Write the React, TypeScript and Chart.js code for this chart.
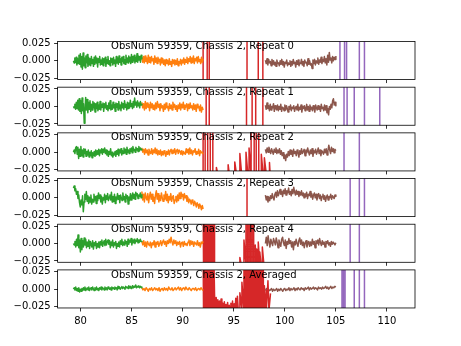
import React, { useEffect, useRef } from "react";
import { Chart, registerables } from "chart.js";

Chart.register(...registerables);

// ---------- data (values in units of 0.001) ----------
const UNIT = 0.001;
const X_TICKS = [80, 85, 90, 95, 100, 105, 110];
const Y_TICKS = [-0.025, 0, 0.025];
const TITLES = [
  "ObsNum 59359, Chassis 2, Repeat 0",
  "ObsNum 59359, Chassis 2, Repeat 1",
  "ObsNum 59359, Chassis 2, Repeat 2",
  "ObsNum 59359, Chassis 2, Repeat 3",
  "ObsNum 59359, Chassis 2, Repeat 4",
  "ObsNum 59359, Chassis 2, Averaged",
];

// frequency ranges of the evenly sampled segments
const GREEN_RANGE = [79.3, 86.0];
const ORANGE_RANGE = [86.0, 92.0];
const BROWN_RANGE = [98.1, 105.0];

const GREEN_0 = [0,-3,4,-2,5,-6,3,-4,8,-5,10,-9,6,-12,11,-7,4,-10,7,-3,9,-8,5,-6,3,-7,6,-4,2,-8,5,-5,7,-3,4,-9,3,-2,6,-6,1,-5,4,-7,3,-3,5,-8,2,-4,6,-5,0,-7,4,-2,3,-6,5,-4,1,-8,6,-3,4,-5,7,-2,3,-6,5,-1,6,-4,2,-5,8,-2,4,-3,7,-1,5,-4,9,-2,6,0,8,-3,5,-1,10,-2,7,1,6,-2,8,3];
const GREEN_1 = [0,-2,3,-4,6,-3,9,-5,11,-7,8,-10,12,-6,4,-24,-8,13,-5,10,-9,6,-4,8,-7,3,-5,7,-2,5,-8,4,-3,6,-6,2,-4,7,-5,3,-1,5,-7,4,-2,6,-4,1,-6,5,-3,8,-5,2,-4,6,-2,3,-7,5,-1,4,-5,7,-3,2,-6,6,-2,4,-4,8,-1,3,-5,6,-3,5,-2,9,0,4,-3,7,-1,12,2,6,-1,8,1,5,-2,7,2,4];
const GREEN_2 = [0,3,-2,6,8,-3,7,-9,4,-6,8,-5,3,-7,5,-2,4,-6,1,-4,3,-7,0,-5,2,-8,-1,-5,1,-6,3,-4,2,-3,4,-5,3,-1,5,-3,4,0,6,-2,3,-4,2,-6,1,-3,5,-5,0,-7,-2,-4,1,-6,2,-3,4,-5,3,-1,5,-4,2,-2,6,-1,4,-3,7,0,3,-2,5,1,6,-1,8,2,4,0,7,3,5,1,8,2,6,4,3];
const GREEN_3 = [14,17,10,13,5,9,-1,4,-7,-13,-3,-10,3,-20,-6,5,-2,9,-5,3,-8,1,-6,4,-9,-2,-6,5,-3,2,-8,3,-4,7,-1,4,-6,2,-9,0,-3,5,-7,3,-2,6,-4,1,4,-3,8,-6,2,-5,5,-8,1,-3,6,-2,3,-7,4,0,-4,7,-2,2,-6,5,-1,3,-9,1,-4,6,-3,2,7,-1,5,-2,8,3,6,-1,4,2,7,0,5];
const GREEN_4 = [0,-2,3,-5,6,-3,12,-6,5,-12,7,-9,4,-5,8,-2,6,-6,2,-4,5,-7,3,-1,-5,4,-8,1,-3,3,-7,0,-5,2,-6,3,-2,5,-4,1,4,-3,6,-2,3,5,-1,4,-6,2,-3,5,-5,1,-2,3,-7,0,-4,2,-5,4,-1,6,-3,2,-2,5,0,3,-4,6,-1,4,2,7,-2,5,1,6,0,4,3,7,1,5,2,6,3,4];
const GREEN_5 = [0,2,-1,3,-2,1,-3,2,-4,0,-3,1,-2,2,-1,3,-2,0,2,-1,3,-2,1,2,-1,3,0,-2,2,-1,3,-1,1,-2,2,0,3,-1,2,1,-1,3,0,2,-1,3,1,0,2,-1,3,1,2,0,3,1,2,-1,4,1,3,0,2,4,1,3,2,0,4,2,3,1,5,2,4,1,3,5,2,4,3,6,2,4,3,5,2,4,3,2];

const ORANGE_0 = [5,-2,6,-3,7,-1,4,-4,8,-2,5,-3,6,0,3,-5,7,-2,4,-4,5,-1,2,-6,4,-3,3,-5,1,-7,2,-4,0,-6,3,-5,-1,-8,2,-4,1,-6,0,-5,3,-7,-1,-4,2,-6,1,-3,4,-5,2,-2,5,-4,3,-1,6,-3,4,-2,7,-4,3,0,5,-3,6,-1,2,-4,5,-2,3];
const ORANGE_1 = [6,-2,4,-5,7,-3,5,-1,3,-6,6,-2,4,-4,2,-5,5,-3,7,-1,3,-6,4,-2,1,-7,3,-4,5,-2,0,-6,4,-3,2,-5,6,-1,3,-4,1,-7,2,-3,5,-5,3,-2,6,-4,2,-1,4,-6,3,-3,5,-2,1,-5,4,-4,2,-7,3,-2,0,-6,2,-8,-1,-5];
const ORANGE_2 = [6,0,4,-3,5,-1,3,-4,4,0,-2,5,-3,3,-1,6,-2,4,-4,2,-3,3,-5,1,-4,2,-2,-6,1,-3,3,-4,2,4,-2,3,-1,5,-3,2,4,-2,3,1,-3,2,-4,1,-2,-3,5,-1,4,-3,6,-2,3,-4,2,0,5,-3,1,-2,4,-5,2,-1,0,-3];
const ORANGE_3 = [9,-3,5,-6,7,0,-3,6,-7,2,8,-2,5,-5,1,-8,4,10,-2,6,-6,3,-4,7,0,-5,4,-2,9,-4,5,-7,2,-3,6,-5,1,3,-8,-3,2,-6,4,-4,7,-1,8,2,5,-3,6,0,3,-5,1,-7,-2,-4,-9,-3,-6,-11,-5,-8,-13,-7,-10,-15,-9,-12,-17,-11,-16];
const ORANGE_4 = [3,-2,4,-4,2,-5,3,-1,-3,2,-6,1,-2,4,-5,2,-1,3,-4,0,4,-3,2,5,-1,3,-4,4,0,6,1,9,2,-2,5,0,4,-3,2,-1,3,-5,1,2,-4,3,-2,0,-3,2,5,-3,4,-1,3,-4,2,0,-2,4,-3,1,-5,2,0,3];
const ORANGE_5 = [2,-1,1,-2,2,0,-3,1,-1,2,-2,0,2,-1,1,-2,2,-3,0,1,-2,2,-1,1,-2,3,0,-1,2,-2,0,2,-1,1,3,-1,2,-2,1,2,-1,3,0,-1,2,0,-2,1,1,-1,2,-2,0,1,-1,2,0,-2];

const BROWN_0 = [1,-4,3,-6,2,-3,-1,-7,2,-5,0,-6,-2,-8,1,-4,-3,-7,0,-5,2,-6,-1,-9,-2,-4,1,-7,-3,-5,0,-8,-1,-6,2,-4,-2,-9,0,-5,1,-7,-3,-4,2,-6,-1,-8,1,-3,-2,-7,3,-5,0,-6,-4,-11,1,-4,2,-6,0,-3,4,-5,1,-2,5,-4,2,-1,6,-3,3,-6,8,-2,12,1,4,-3,6,0,5,2,7];
const BROWN_1 = [2,-4,5,-3,1,-6,3,-5,0,-2,4,-7,1,-3,-5,2,-6,0,-4,3,-7,-1,-2,-6,2,-5,1,-3,-8,0,-4,2,-6,-1,-3,1,-7,-2,0,-5,3,-6,-1,-4,2,-8,0,-3,1,-6,-2,3,-5,0,-7,2,-4,-1,-6,1,-3,-8,2,-2,-5,1,-4,0,-7,3,-3,-1,-6,2,-5,1,-9,-3,-12,0,-4,3,-2,8,11,2,6,1];
const BROWN_2 = [4,-1,6,0,7,2,-2,5,1,-3,4,0,6,-2,3,-1,5,-3,2,-5,-1,-9,-4,-12,-3,-7,1,-5,3,-3,2,-6,4,-2,1,-5,3,-1,-7,2,-3,5,-2,1,4,-5,3,-1,6,0,-4,3,-2,5,-6,2,-1,4,-3,1,6,-2,3,-5,2,0,-3,4,-1,5,-4,2,10,3,-2,7,1,5,-1,4,2];
const BROWN_3 = [4,-3,2,-6,1,-4,3,-1,6,0,-3,5,8,1,10,3,7,12,5,9,2,11,6,13,4,10,7,14,5,9,3,12,6,15,8,4,11,5,9,2,8,4,10,3,7,0,6,2,8,-1,5,3,9,1,6,-2,4,7,0,5,-3,3,6,-1,4,-4,2,5,-2,3,-5,1,4,-3,2,0,5,-2,3,1,-1,4,2];
const BROWN_4 = [0,9,-3,11,2,-5,6,1,-3,7,3,-2,8,2,-6,5,0,-4,6,9,1,-3,5,-7,3,-1,7,0,4,-5,2,-9,3,-2,6,0,-4,4,8,-1,5,-3,2,-6,1,4,-5,0,3,-4,2,-3,6,-1,3,-6,4,0,5,-2,7,1,-3,4,-1,2,-5,3,0,4,-2,1,-4,3,-1,2,0,-2,1];
const BROWN_5 = [-2,1,-3,0,-2,-1,1,-3,0,-2,-1,1,-3,0,-2,1,-1,-3,0,1,-2,0,-1,2,-2,1,-1,0,2,-2,1,-1,2,0,-1,2,0,1,-2,2,0,1,3,-1,2,0,1,3,0,2,1,-1,3,1,2,0,3,1,2,4,1,3,0,2,4,1,3,2,4,3];

// red segment (largely off-scale values)
const RED_X_0 = [92.0,92.0,92.4,92.4,92.6,92.6,96.3,96.3,97.4,97.4,97.85,97.85];
const RED_Y_0 = [60,-60,-60,60,60,-60,-60,60,60,-60,-60,60];
const RED_X_1 = [92.3,92.3,92.6,92.6,96.25,96.25,96.8,96.8,97.15,97.15,97.85,97.85];
const RED_Y_1 = [60,-60,-60,60,60,-60,-60,60,60,-60,-60,60];
const RED_X_2 = [92.0,92.0,92.2,92.2,92.45,92.45,92.7,92.7,92.95,92.95,93.1,93.3,93.3,93.5,93.7,93.9,94.1,94.3,94.45,94.45,94.6,94.8,95.0,95.1,95.1,95.3,95.5,95.6,95.6,95.8,96.0,96.2,96.2,96.4,96.5,96.5,96.7,96.7,97.0,97.0,97.2,97.2,97.45,97.45,97.7,97.7,97.9,98.0,98.0,98.2,98.5,98.5,98.6];
const RED_Y_2 = [60,-60,-60,60,60,-60,-60,60,60,-60,-40,-40,-22,-35,-30,-38,-32,-36,-34,-18,-35,-31,-37,-33,-14,-35,-32,-34,-2,-36,-30,-33,0,-35,-34,6,-32,60,60,-60,-60,60,60,-60,-60,-3,-35,-35,-8,-33,-36,-15,-40];
const RED_X_3 = [92.0,96.3,96.3,98.0];
const RED_Y_3 = [-60,-60,60,60];
const RED_X_4 = [92.0,92.0,92.08,92.08,92.16,92.16,92.24,92.24,92.32,92.32,92.4,92.4,92.48,92.48,92.56,92.56,92.64,92.64,92.72,92.72,92.8,92.8,92.88,92.88,92.96,92.96,93.04,93.04,93.12,93.12,93.2,93.4,93.6,93.8,94.0,94.2,94.4,94.6,94.8,95.0,95.2,95.4,95.6,95.6,95.8,96.0,96.0,96.2,96.2,96.35,96.35,96.5,96.5,96.65,96.65,96.8,96.8,96.95,96.95,97.1,97.1,97.25,97.25,97.4,97.4,97.55,97.55,97.7,97.8,97.8,97.95,98.0];
const RED_Y_4 = [60,-60,-60,60,60,-60,-60,60,60,-60,-60,60,60,-60,-60,60,60,-60,-60,60,60,-60,-60,60,60,-60,-60,60,60,-60,-40,-35,-38,-33,-36,-34,-37,-32,-35,-38,-33,-36,-34,-20,-35,-33,5,-30,60,60,-60,-60,60,60,-60,-60,60,60,-60,-60,-2,-32,-8,-34,2,-30,-12,-35,-33,-5,-30,-40];
const RED_X_5 = [92.0,92.0,92.08,92.08,92.16,92.16,92.24,92.24,92.32,92.32,92.4,92.4,92.48,92.48,92.56,92.56,92.64,92.64,92.72,92.72,92.8,92.8,92.88,92.88,92.96,92.96,93.04,93.04,93.12,93.2,93.28,93.36,93.44,93.52,93.6,93.68,93.76,93.84,93.92,94.0,94.08,94.16,94.24,94.32,94.4,94.48,94.56,94.64,94.72,94.8,94.88,94.96,95.04,95.12,95.2,95.28,95.36,95.44,95.52,95.6,95.6,95.8,95.8,96.0,96.0,96.1,96.1,96.2,96.2,96.3,96.3,96.4,96.4,96.5,96.5,96.6,96.6,96.7,96.7,96.8,96.8,96.9,96.9,97.0,97.0,97.1,97.1,97.2,97.2,97.3,97.3,97.4,97.4,97.5,97.5,97.6,97.6,97.7,97.7,97.8,97.8,97.9,97.9,98.0,98.0,98.1,98.2,98.2,98.35,98.45,98.45,98.6];
const RED_Y_5 = [60,-60,-60,60,60,-60,-60,60,60,-60,-60,60,60,-60,-60,60,60,-60,-60,60,60,-60,-60,60,60,-60,-60,60,-8,-30,-12,-28,-15,-32,-17,-29,-14,-31,-20,-33,-18,-34,-22,-30,-19,-35,-23,-31,-20,-33,-17,-36,-21,-30,-13,-32,-10,-29,-30,-30,-5,-28,10,-30,60,60,-60,-60,60,60,-60,-60,60,60,-60,-60,60,60,-60,-60,60,60,-60,-60,60,60,-60,-60,60,60,-60,-60,60,60,-60,-60,60,60,-60,-60,60,60,-60,-60,5,-30,-2,-28,12,-32,-30,-6,-33,-34,-12,-40];

// purple segment (off-scale values crossing the plot)
const PURPLE_X_0 = [105.4,105.4,105.85,105.85,106.05,106.05,107.3,107.3,107.8,107.8];
const PURPLE_Y_0 = [60,-60,-60,60,60,-60,-60,60,60,-60];
const PURPLE_X_1 = [105.8,105.8,106.1,106.1,106.8,106.8,107.8,107.8,109.3,109.3];
const PURPLE_Y_1 = [60,-60,-60,60,60,-60,-60,60,60,-60];
const PURPLE_X_2 = [105.8,105.8,107.3,107.3];
const PURPLE_Y_2 = [60,-60,-60,60];
const PURPLE_X_3 = [106.4,106.4,107.3,107.3,107.8,107.8];
const PURPLE_Y_3 = [60,-60,-60,60,60,-60];
const PURPLE_X_4 = [106.4,106.4,107.3,107.3];
const PURPLE_Y_4 = [60,-60,-60,60];
const PURPLE_X_5 = [105.6,105.6,105.75,105.75,105.9,105.9,106.8,106.8,107.3,107.3,107.8,107.8];
const PURPLE_Y_5 = [60,-60,-60,60,60,-60,-60,60,60,-60,-60,60];

const GREENS = [GREEN_0, GREEN_1, GREEN_2, GREEN_3, GREEN_4, GREEN_5];
const ORANGES = [ORANGE_0, ORANGE_1, ORANGE_2, ORANGE_3, ORANGE_4, ORANGE_5];
const BROWNS = [BROWN_0, BROWN_1, BROWN_2, BROWN_3, BROWN_4, BROWN_5];
const REDS_X = [RED_X_0, RED_X_1, RED_X_2, RED_X_3, RED_X_4, RED_X_5];
const REDS_Y = [RED_Y_0, RED_Y_1, RED_Y_2, RED_Y_3, RED_Y_4, RED_Y_5];
const PURPLES_X = [PURPLE_X_0, PURPLE_X_1, PURPLE_X_2, PURPLE_X_3, PURPLE_X_4, PURPLE_X_5];
const PURPLES_Y = [PURPLE_Y_0, PURPLE_Y_1, PURPLE_Y_2, PURPLE_Y_3, PURPLE_Y_4, PURPLE_Y_5];

// ---------- layout / style ----------
const W = 461;
const H = 346;
const X_MIN = 77.75;
const X_MAX = 112.75;
const Y_MIN = -0.0269;
const Y_MAX = 0.0276;
const AX_LEFT = 57.6;
const AX_RIGHT = 415;
const AX_TOP = 41.5;
const AX_H = 38.07;
const AX_GAP = 7.61;
const XAXIS_H = 20;
const FONT = { family: "'DejaVu Sans', sans-serif", size: 10 };

const C_GREEN = "#2ca02c";
const C_ORANGE = "#ff7f0e";
const C_RED = "#d62728";
const C_BROWN = "#8c564b";
const C_PURPLE = "#9467bd";

function even(range: number[], vals: number[]) {
  const n = vals.length;
  return vals.map((v, i) => ({ x: range[0] + ((range[1] - range[0]) * i) / (n - 1), y: v * UNIT }));
}
function pairs(xs: number[], ys: number[]) {
  return xs.map((x, i) => ({ x, y: ys[i] * UNIT }));
}
function fmtY(v: number) {
  if (Math.abs(v) < 1e-9) return "0.000";
  return (v < 0 ? "\u2212" : "") + Math.abs(v).toFixed(3);
}

function ds(data: any[], color: string) {
  return {
    data,
    borderColor: color,
    backgroundColor: color,
    borderWidth: 1.5,
    pointRadius: 0,
    fill: false,
    tension: 0,
    borderJoinStyle: "round" as const,
    borderCapStyle: "butt" as const,
  };
}

function Panel({ index }: { index: number }) {
  const ref = useRef<HTMLCanvasElement>(null);
  useEffect(() => {
    if (!ref.current) return;
    const top = AX_TOP + index * (AX_H + AX_GAP);
    const bottom = top + AX_H;
    const isLast = index === 5;
    const title = TITLES[index];

    const framePlugin = {
      id: "frameAndTitle" + index,
      afterDraw(chart: any) {
        const { ctx, chartArea } = chart;
        ctx.save();
        ctx.strokeStyle = "#000";
        ctx.lineWidth = 0.8;
        ctx.strokeRect(chartArea.left, chartArea.top, chartArea.right - chartArea.left, chartArea.bottom - chartArea.top);
        ctx.fillStyle = "#000";
        ctx.font = "10px 'DejaVu Sans', sans-serif";
        ctx.textAlign = "left";
        ctx.textBaseline = "alphabetic";
        ctx.fillText(title, chartArea.left + 53.5, chartArea.top + 7.6);
        ctx.restore();
      },
    };

    const chart = new Chart(ref.current, {
      type: "line",
      data: {
        datasets: [
          ds(even(GREEN_RANGE, GREENS[index]), C_GREEN),
          ds(even(ORANGE_RANGE, ORANGES[index]), C_ORANGE),
          ds(pairs(REDS_X[index], REDS_Y[index]), C_RED),
          ds(even(BROWN_RANGE, BROWNS[index]), C_BROWN),
          ds(pairs(PURPLES_X[index], PURPLES_Y[index]), C_PURPLE),
        ] as any,
      },
      options: {
        animation: false,
        responsive: false,
        devicePixelRatio: 1,
        events: [],
        layout: {
          padding: { left: 0, right: W - AX_RIGHT, top, bottom: H - bottom - XAXIS_H },
        },
        plugins: {
          legend: { display: false },
          tooltip: { enabled: false },
          title: { display: false },
        },
        scales: {
          x: {
            type: "linear",
            min: X_MIN,
            max: X_MAX,
            afterBuildTicks: (s: any) => {
              s.ticks = X_TICKS.map((v) => ({ value: v }));
            },
            afterFit: (s: any) => {
              s.height = XAXIS_H;
            },
            ticks: {
              display: isLast,
              color: "#000",
              font: FONT,
              padding: 3.5,
              maxRotation: 0,
              autoSkip: false,
              callback: (v: any) => String(v),
            },
            grid: {
              drawOnChartArea: false,
              drawTicks: true,
              tickLength: 3.5,
              tickWidth: 0.8,
              tickColor: "#000",
              color: "#000",
            },
            border: { display: false },
          },
          y: {
            type: "linear",
            min: Y_MIN,
            max: Y_MAX,
            afterBuildTicks: (s: any) => {
              s.ticks = Y_TICKS.map((v) => ({ value: v }));
            },
            afterFit: (s: any) => {
              s.width = AX_LEFT;
            },
            ticks: {
              color: "#000",
              font: FONT,
              padding: 3.5,
              autoSkip: false,
              callback: (v: any) => fmtY(Number(v)),
            },
            grid: {
              drawOnChartArea: false,
              drawTicks: true,
              tickLength: 3.5,
              tickWidth: 0.8,
              tickColor: "#000",
              color: "#000",
            },
            border: { display: false },
          },
        },
      } as any,
      plugins: [framePlugin],
    });
    return () => chart.destroy();
  }, [index]);
  return (
    <canvas
      ref={ref}
      width={W}
      height={H}
      style={{ position: "absolute", left: 0, top: 0, width: W, height: H }}
    />
  );
}

export default function App() {
  return (
    <div style={{ position: "fixed", left: 0, top: 0, width: W, height: H, background: "#fff" }}>
      {[0, 1, 2, 3, 4, 5].map((i) => (
        <Panel key={i} index={i} />
      ))}
    </div>
  );
}
